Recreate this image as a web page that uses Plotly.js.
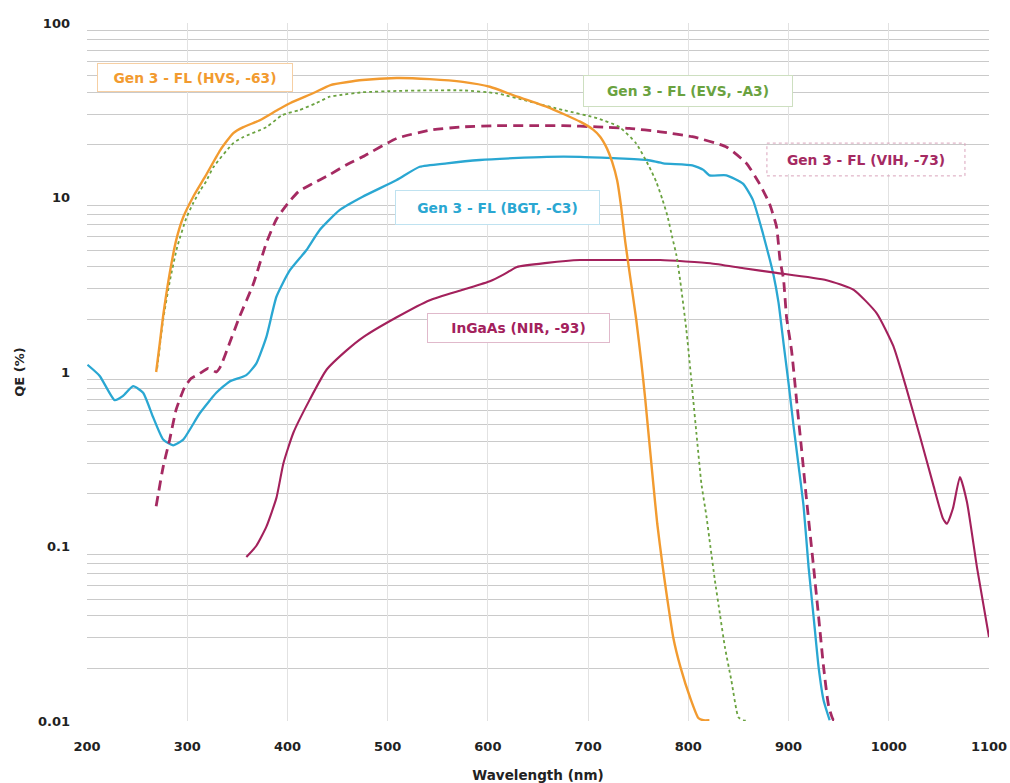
<!DOCTYPE html>
<html>
<head>
<meta charset="utf-8">
<script src="https://cdn.plot.ly/plotly-3.0.1.min.js"></script>
<style>
  html, body { margin: 0; padding: 0; background: #ffffff; }
  #chart { width: 1010px; height: 783px; }
</style>
</head>
<body>
<div id="chart"></div>
<script>
// ---- Data ----
const hvsWl = [269, 272.6, 276, 282.5, 289, 296, 306, 318, 333, 346, 356, 373, 390, 403, 426, 443, 475, 509, 542, 575, 602, 625, 659, 692, 705, 712, 719, 724, 729, 733, 737, 742, 748, 753, 757, 761, 765, 769, 774, 779, 785, 792, 802, 810, 815, 821];
const hvsQE = [1.0, 1.46, 2.1, 3.67, 5.7, 7.7, 10.1, 13.2, 18.7, 23.4, 25.3, 27.8, 31.7, 34.8, 39.7, 44.1, 47.1, 48.4, 47.7, 46.0, 43.1, 38.6, 33.1, 27.2, 24.5, 22.3, 19.0, 16.0, 12.5, 8.8, 5.6, 3.5, 2.0, 1.15, 0.7, 0.4, 0.23, 0.135, 0.08, 0.05, 0.03, 0.0205, 0.0135, 0.0104, 0.0101, 0.0101];

const evsWl = [270, 276, 283, 290, 299, 306, 313, 319, 326, 346, 356, 379, 395, 412, 429, 442, 452, 475, 509, 542, 575, 609, 642, 675, 709, 731, 748, 761, 768, 774, 779, 784, 788, 792, 798, 803, 808, 813, 818, 822, 826.5, 831.5, 836.5, 843, 850, 855, 860];
const evsQE = [1.05, 2.0, 3.4, 5.2, 7.6, 9.3, 11.0, 12.4, 14.9, 20.5, 22.2, 25.3, 29.7, 31.7, 34.8, 37.8, 38.6, 40.1, 40.8, 41.1, 41.1, 39.5, 35.4, 31.7, 28.5, 25.4, 20.4, 15.0, 12.3, 9.8, 7.9, 5.9, 4.7, 3.3, 1.75, 0.9, 0.45, 0.23, 0.15, 0.10, 0.064, 0.041, 0.0265, 0.017, 0.0105, 0.0101, 0.0100];

const vihWl = [269, 276, 282.5, 289, 297.5, 304, 312.5, 321, 329, 333, 342, 352, 366, 379, 389, 400, 411, 425, 442, 458, 475, 509, 542, 575, 609, 642, 675, 709, 741, 772, 804, 838, 858, 871, 881, 888, 891.5, 895, 898, 903, 908, 913, 918, 925, 930, 935, 940, 945, 951];
const vihQE = [0.17, 0.286, 0.41, 0.61, 0.82, 0.92, 0.98, 1.05, 1.0, 1.07, 1.45, 2.06, 3.2, 5.5, 7.5, 9.2, 10.8, 12.0, 13.5, 15.3, 17.1, 21.8, 24.3, 25.4, 25.8, 25.8, 25.8, 25.4, 24.9, 23.8, 22.3, 19.5, 15.7, 12.0, 9.2, 6.8, 4.38, 3.4, 2.06, 1.33, 0.69, 0.36, 0.184, 0.076, 0.0395, 0.0203, 0.0122, 0.0101, 0.0101];

const bgtWl = [200.5, 212.7, 227.6, 236, 246, 256, 266, 276, 286, 296, 312.5, 329, 342, 359, 369, 379, 389, 402, 419, 432, 452, 475, 509, 532, 559, 592, 625, 659, 692, 725, 759, 775, 804, 815, 821, 838, 854.5, 864.5, 874.5, 881.4, 885, 890, 895, 900, 905, 910, 915, 920, 925, 930, 935, 941];
const bgtQE = [1.1, 0.95, 0.69, 0.73, 0.83, 0.76, 0.55, 0.41, 0.38, 0.41, 0.58, 0.76, 0.88, 0.96, 1.12, 1.59, 2.7, 3.8, 5.0, 6.5, 8.46, 10.1, 12.6, 15.0, 15.7, 16.4, 16.8, 17.1, 17.1, 16.8, 16.4, 15.7, 15.3, 14.4, 13.4, 13.4, 12.0, 9.66, 6.2, 4.38, 3.6, 2.5, 1.46, 0.86, 0.49, 0.29, 0.17, 0.076, 0.0395, 0.0203, 0.0131, 0.0101];

const nirWl = [359, 369, 379, 389, 396, 406, 422, 439, 459, 476, 509, 542, 575, 602, 615, 629, 659, 692, 725, 772, 822, 855, 888, 938, 965, 988, 1004.5, 1018, 1031, 1044, 1054, 1058, 1064, 1071, 1078, 1088, 1100];
const nirQE = [0.087, 0.101, 0.13, 0.19, 0.30, 0.45, 0.69, 1.03, 1.33, 1.59, 2.06, 2.58, 2.96, 3.31, 3.6, 4.0, 4.22, 4.38, 4.38, 4.38, 4.2, 3.93, 3.7, 3.36, 2.96, 2.17, 1.41, 0.79, 0.43, 0.23, 0.145, 0.135, 0.165, 0.25, 0.18, 0.076, 0.0303];

const seriesNames = ['Gen 3 - FL (HVS, -63)', 'Gen 3 - FL (EVS, -A3)', 'Gen 3 - FL (VIH, -73)', 'Gen 3 - FL (BGT, -C3)', 'InGaAs (NIR, -93)'];

const xTickVals = [200, 300, 400, 500, 600, 700, 800, 900, 1000, 1100];
const yTickVals = [0.01, 0.1, 1, 10, 100];
const yTickText = ['0.01', '0.1', '1', '10', '100'];
const yMinorVals = [0.02,0.03,0.04,0.05,0.06,0.07,0.08,0.09, 0.2,0.3,0.4,0.5,0.6,0.7,0.8,0.9, 2,3,4,5,6,7,8,9, 20,30,40,50,60,70,80,90];

// ---- Styles ----
const cOrange = '#F29B30';
const cGreen = '#6AA23F';
const cVih = '#A52A62';
const cBlue = '#2AA7D2';
const cNir = '#A3215C';

const font = 'DejaVu Sans, Verdana, sans-serif';

const traces = [
  { x: bgtWl, y: bgtQE, name: seriesNames[3], mode: 'lines', line: { color: cBlue, width: 2.3, shape: 'spline', smoothing: 0.5 } },
  { x: nirWl, y: nirQE, name: seriesNames[4], mode: 'lines', line: { color: cNir, width: 2.1, shape: 'spline', smoothing: 0.5 } },
  { x: vihWl, y: vihQE, name: seriesNames[2], mode: 'lines', line: { color: cVih, width: 2.8, dash: '10px,6px', shape: 'spline', smoothing: 0.5 } },
  { x: evsWl, y: evsQE, name: seriesNames[1], mode: 'lines', line: { color: cGreen, width: 1.8, dash: 'dot', shape: 'spline', smoothing: 0.5 } },
  { x: hvsWl, y: hvsQE, name: seriesNames[0], mode: 'lines', line: { color: cOrange, width: 2.4, shape: 'spline', smoothing: 0.5 } }
];

function label(text, x, ylog, w, h, color, border) {
  return {
    text: '<b>' + text + '</b>', x: x, y: ylog, xref: 'x', yref: 'y',
    showarrow: false, font: { family: font, size: 13.8, color: color },
    bgcolor: '#ffffff', bordercolor: border, borderwidth: border ? 1 : 0,
    width: w, height: h, borderpad: 0, align: 'center'
  };
}

const layout = {
  width: 1010, height: 783,
  margin: { l: 87, r: 21, t: 23, b: 62 },
  paper_bgcolor: '#ffffff', plot_bgcolor: '#ffffff',
  showlegend: false, hovermode: false,
  font: { family: font, color: '#222222' },
  xaxis: {
    range: [200, 1100], tickmode: 'array', tickvals: xTickVals,
    showgrid: true, gridcolor: '#e2e2e2', gridwidth: 1,
    zeroline: false, showline: false, ticks: '',
    ticklabelstandoff: 16,
    tickfont: { family: font, size: 13, color: '#222222', weight: 'bold' },
    title: { text: '<b>Wavelength (nm)</b>', font: { family: font, size: 13.5, color: '#222222' }, standoff: 18 }
  },
  yaxis: {
    type: 'log', range: [-2, 2], tickmode: 'array', tickvals: yTickVals, ticktext: yTickText,
    showgrid: false, zeroline: false, showline: false, ticks: '',
    ticklabelstandoff: 16,
    tickfont: { family: font, size: 13, color: '#222222', weight: 'bold' },
    minor: { tickmode: 'array', tickvals: yMinorVals, showgrid: true, gridcolor: '#cacaca', gridwidth: 1, ticks: '' },
    title: { text: '<b>QE (%)</b>', font: { family: font, size: 13, color: '#222222' }, standoff: 10 }
  },
  shapes: [
    { type: 'rect', xref: 'x', yref: 'y', x0: 878.4, x1: 1076, y0: 13.3, y1: 20.5,
      line: { color: '#d9a3bb', width: 1, dash: 'dot' }, fillcolor: 'rgba(0,0,0,0)', layer: 'above' }
  ],
  annotations: [
    label(seriesNames[0], 307.4, 1.6875, 194, 27, cOrange, '#f6cfa3'),
    label(seriesNames[1], 799.6, 1.610, 208, 30, cGreen, '#cddfc0'),
    label(seriesNames[2], 977.2, 1.217, 194, 29, cVih, null),
    label(seriesNames[3], 609.4, 0.942, 203, 33, cBlue, '#bfe2f0'),
    label(seriesNames[4], 630.4, 0.251, 181, 28, cNir, '#e0b9cb')
  ]
};

Plotly.newPlot('chart', traces, layout, { displayModeBar: false, staticPlot: true });
</script>
</body>
</html>
